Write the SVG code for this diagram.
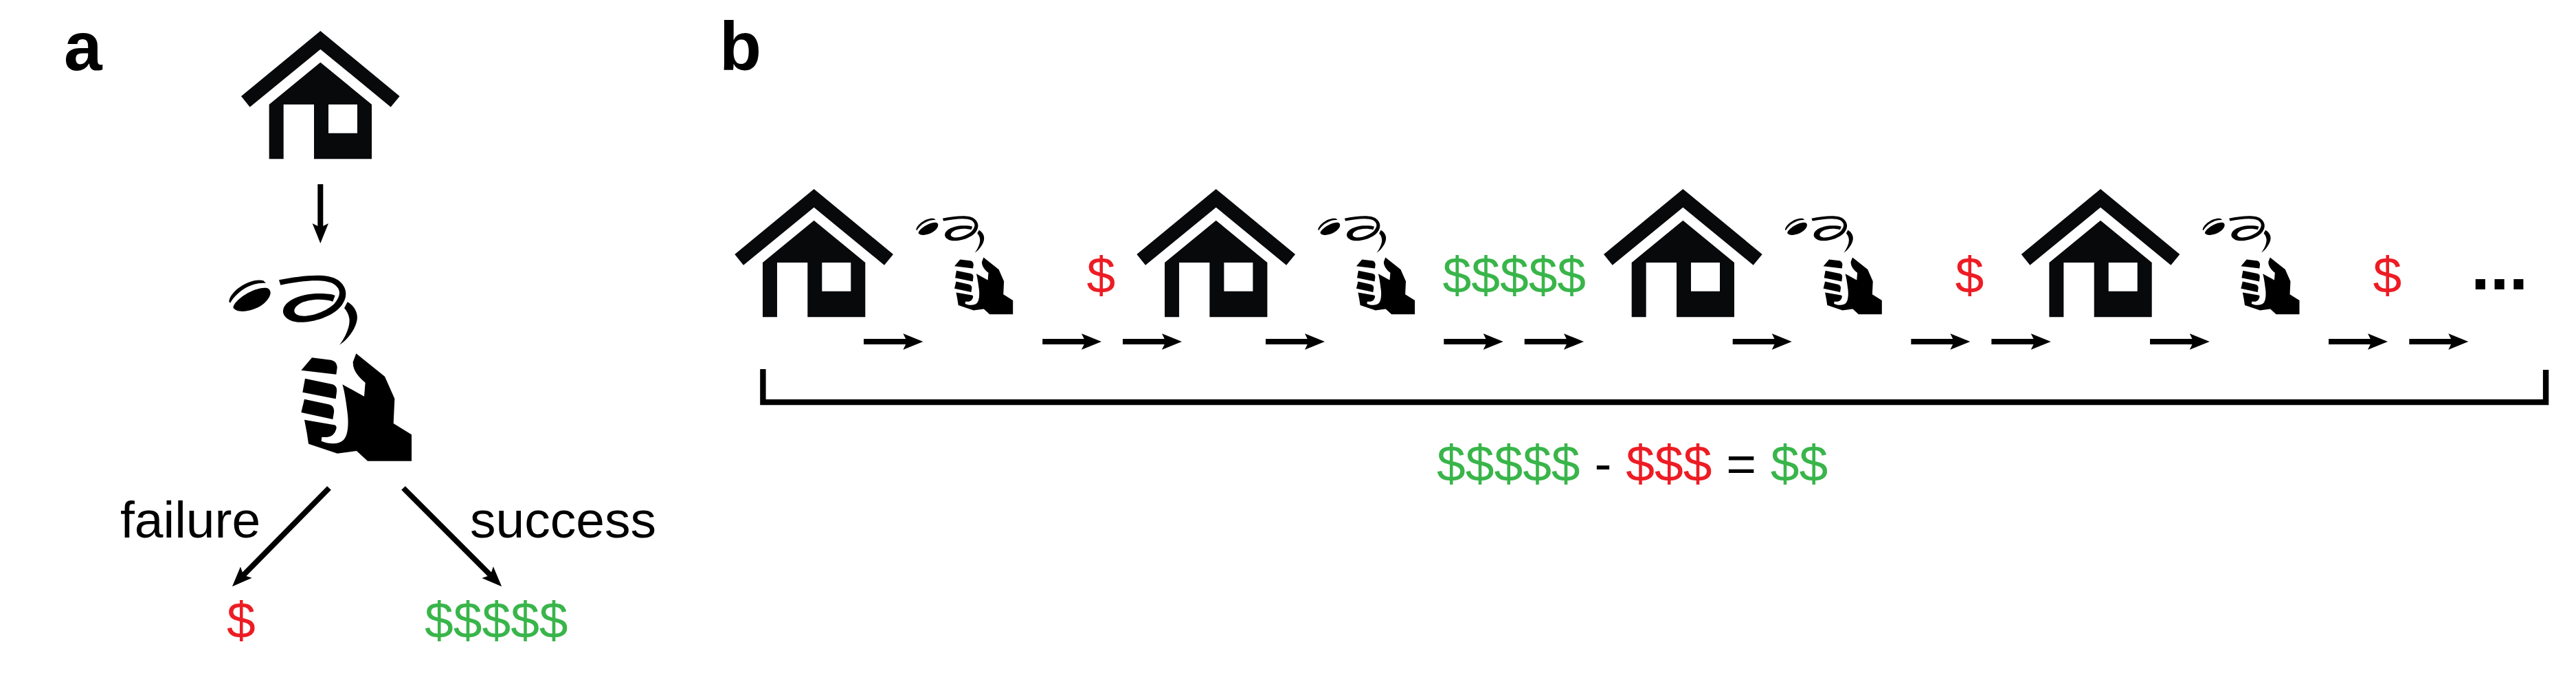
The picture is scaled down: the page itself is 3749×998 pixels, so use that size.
<svg xmlns="http://www.w3.org/2000/svg" xmlns:xlink="http://www.w3.org/1999/xlink" width="3749" height="998" viewBox="0 0 3749 998">
<style>
text{font-family:"Liberation Sans",Arial,sans-serif;font-size:75px;fill:#000}
.panel,.dots{font-weight:bold;font-size:100px}
.r,text .r{fill:#ed1c24}
.g,text .g{fill:#39b54a}
.house{fill:#08090b;fill-rule:evenodd}
.hand{fill:#000}
.arrow{stroke:#000;stroke-width:8;fill:none;marker-end:url(#head)}
.bracket{stroke:#000;stroke-width:8.4;fill:none}
</style>
<defs>
<marker id="head" markerUnits="userSpaceOnUse" viewBox="-11 -13 33 26" markerWidth="33" markerHeight="26" refX="0" refY="0" orient="auto">
<path d="M-9,-11.7 L20,0 L-9,11.7 L-3.3,0 Z" fill="#000"/>
</marker>
<g id="house" class="house" transform="scale(0.33333)">
<path d="M499,135 L845,420 L806,467 L499,215 L191,467 L153,420 Z"/>
<path d="M499,272 L723,456 L723,694 L471,694 L471,456 L338,456 L338,694 L275,694 L275,456 Z M534,456 L534,581 L660,581 L660,456 Z"/>
</g>
<g id="hand" class="hand">
<path d="M118,232 C125,195 215,140 265,147 C290,155 285,185 255,212 C220,245 135,265 118,232 Z"/>
<path d="M100,207 C103,160 195,100 250,115 L261,126 C205,120 140,155 105,212 Z"/>
<path d="M318,112 C420,92 530,80 575,112 C615,140 622,185 590,225 C550,275 460,300 400,296 C355,292 330,265 337,240 C345,205 400,178 470,172 C510,170 545,172 563,180 L553,206 C510,192 440,195 405,218 C380,235 375,258 410,268 C460,275 530,245 560,215 C590,180 590,150 555,128 C510,105 420,115 325,134 Z"/>
<path d="M617,208 C650,225 665,260 658,290 C650,330 615,375 582,395 C610,360 630,310 625,280 C622,260 612,245 603,235 Z"/>
<path d="M462,451 L545,461 C565,465 572,480 572,495 L568,524 L415,506 Z"/>
<path d="M432,542 L550,567 C568,572 572,585 570,600 L566,631 L421,602 Z"/>
<path d="M429,632 L535,655 C555,660 560,675 558,690 L553,720 L415,690 Z"/>
<path d="M429,722 L560,745 C572,748 570,760 565,770 C555,795 535,800 505,797 L503,815 C540,830 580,830 600,810 C620,790 622,740 618,700 C612,650 605,600 595,568 L690,620 L695,560 C670,540 640,510 641,470 L655,433 L780,533 L823,630 L818,738 L897,787 L897,902 L705,902 L657,858 L573,869 L447,827 L440,780 Z"/>
</g>
</defs>

<g id="panel-a">
<text id="label-a" class="panel" x="93" y="101.5">a</text>
<g id="a-house"><use xlink:href="#house" href="#house" transform="translate(300,0)"/></g>
<g id="a-hand"><use xlink:href="#hand" href="#hand" transform="translate(300,370) scale(0.33333)"/></g>
<text id="a-failure" x="175" y="782">failure</text>
<text id="a-success" x="684" y="782">success</text>
<text id="a-loss" class="r" x="330" y="928">$</text>
<text id="a-win" class="g" x="618" y="928">$$$$$</text>
</g>

<g id="panel-b">
<text id="label-b" class="panel" x="1047" y="101.5">b</text>
<g id="b-house-1"><use xlink:href="#house" href="#house" transform="translate(1018.3,230)"/></g>
<g id="b-hand-1"><use xlink:href="#hand" href="#hand" transform="translate(1315.7,297.9) scale(0.1767)"/></g>
<text id="b-pay-1" class="r" x="1581.5" y="425.5">$</text>
<g id="b-house-2"><use xlink:href="#house" href="#house" transform="translate(1603.4,230)"/></g>
<g id="b-hand-2"><use xlink:href="#hand" href="#hand" transform="translate(1900.6,297.9) scale(0.1767)"/></g>
<text id="b-pay-2" class="g" x="2099.5" y="425.5">$$$$$</text>
<g id="b-house-3"><use xlink:href="#house" href="#house" transform="translate(2283,230)"/></g>
<g id="b-hand-3"><use xlink:href="#hand" href="#hand" transform="translate(2580.3,297.9) scale(0.1767)"/></g>
<text id="b-pay-3" class="r" x="2845.5" y="425.5">$</text>
<g id="b-house-4"><use xlink:href="#house" href="#house" transform="translate(2890.7,230)"/></g>
<g id="b-hand-4"><use xlink:href="#hand" href="#hand" transform="translate(3188,297.9) scale(0.1767)"/></g>
<text id="b-pay-4" class="r" x="3453.5" y="425.5">$</text>
<text id="b-dots" class="dots" x="3596" y="421">...</text>
<text id="b-sum" x="2091" y="699.5"><tspan class="g">$$$$$</tspan> - <tspan class="r">$$$</tspan> = <tspan class="g">$$</tspan></text>
</g>

<g id="connectors">
<line class="arrow" x1="466.3" y1="268" x2="466.3" y2="334"/>
<line class="arrow" x1="479" y1="710" x2="352" y2="839"/>
<line class="arrow" x1="587" y1="710" x2="716" y2="839"/>
<line class="arrow" x1="1257" y1="497" x2="1323.4" y2="497"/>
<line class="arrow" x1="1517.2" y1="497" x2="1583" y2="497"/>
<line class="arrow" x1="1634" y1="497" x2="1700" y2="497"/>
<line class="arrow" x1="1842" y1="497" x2="1908" y2="497"/>
<line class="arrow" x1="2101.3" y1="497" x2="2167.7" y2="497"/>
<line class="arrow" x1="2218.7" y1="497" x2="2285" y2="497"/>
<line class="arrow" x1="2521.7" y1="497" x2="2587.7" y2="497"/>
<line class="arrow" x1="2781.3" y1="497" x2="2847.3" y2="497"/>
<line class="arrow" x1="2898.3" y1="497" x2="2964.7" y2="497"/>
<line class="arrow" x1="3129" y1="497" x2="3195.7" y2="497"/>
<line class="arrow" x1="3389" y1="497" x2="3455" y2="497"/>
<line class="arrow" x1="3506.3" y1="497" x2="3572.3" y2="497"/>
<path class="bracket" d="M1110.4,537 V585.1 H3705.1 V538"/>
</g>
</svg>
